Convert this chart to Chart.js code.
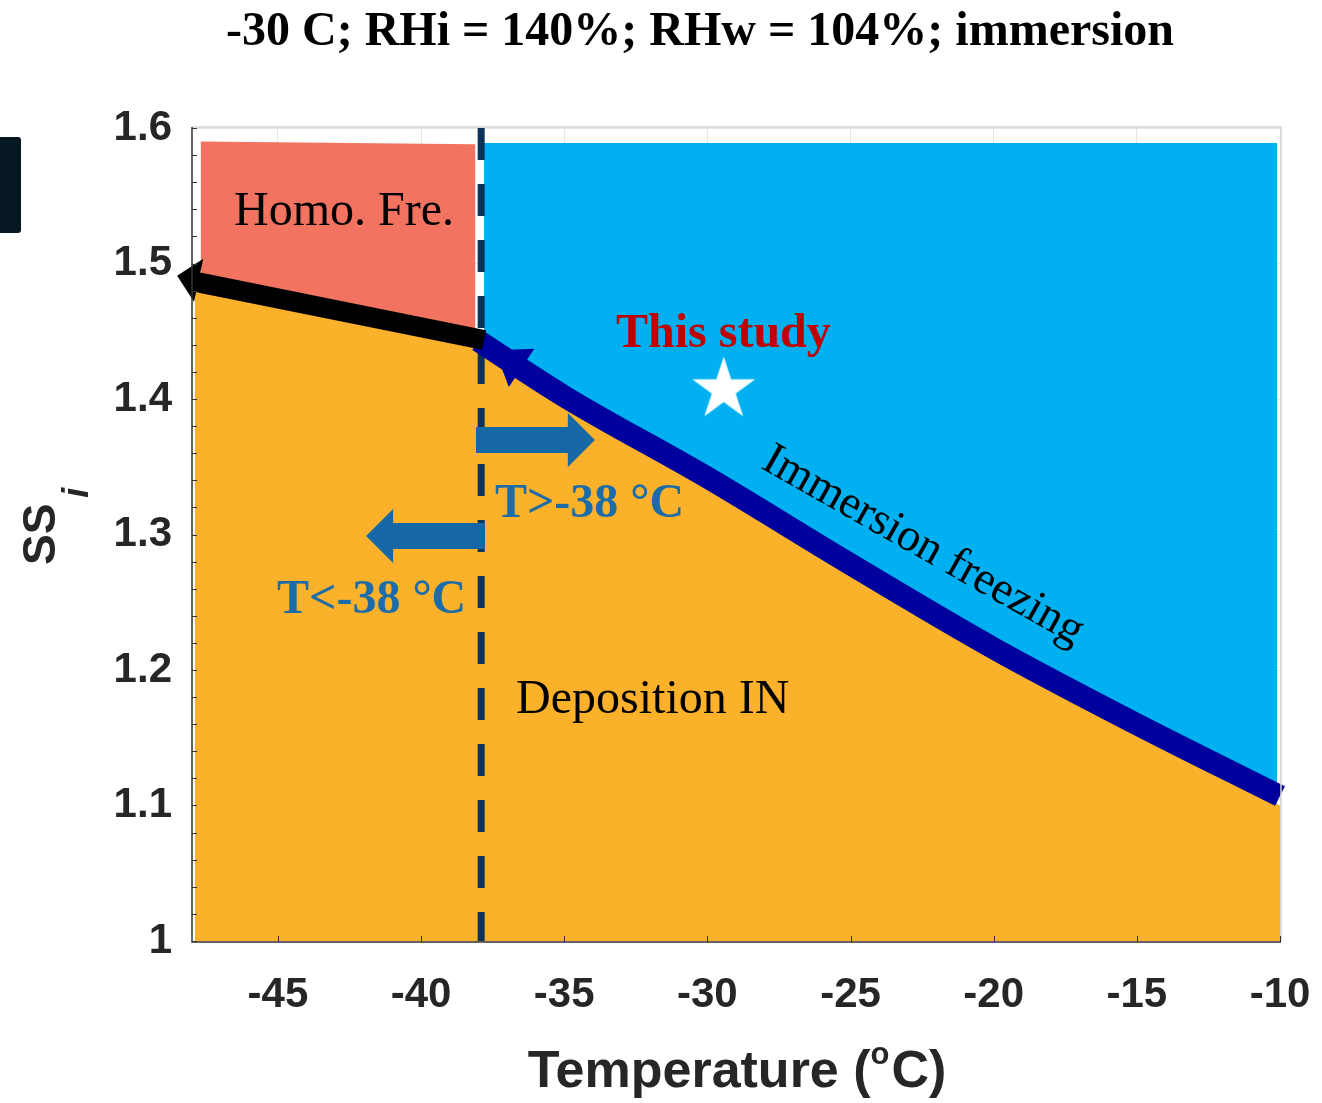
<!DOCTYPE html>
<html>
<head>
<meta charset="utf-8">
<script src="https://cdn.jsdelivr.net/npm/chart.js@4.4.0/dist/chart.umd.min.js"></script>
<style>
  body { margin: 0; background: #fff; overflow: hidden; }
  #wrap { position: relative; width: 1322px; height: 1103px; }
  #tab { position: absolute; left: 0; top: 137px; width: 21px; height: 96px; background: #061722; border-radius: 0 3px 3px 0; }
</style>
</head>
<body>
<div id="wrap"><canvas id="phase" width="1322" height="1103"></canvas><div id="tab"></div></div>
<script>
var xTicks = [-45, -40, -35, -30, -25, -20, -15, -10];
var yTicks = [1, 1.1, 1.2, 1.3, 1.4, 1.5, 1.6];

// immersion freezing line (water saturation)
var immT = [-38, -35, -30, -25, -20, -15, -10];
var immSS = [1.443, 1.402, 1.342, 1.278, 1.216, 1.160, 1.107];

// top of the deposition region
var depT = [-47.9, -38, -35, -30, -25, -20, -15, -10];
var depSS = [1.479, 1.436, 1.396, 1.337, 1.273, 1.211, 1.155, 1.100];

// homogeneous freezing block
var homT = [-47.7, -38.1];
var homSS = [1.590, 1.588];

// immersion block top
var immTopT = [-37.8, -10.1];
var immTopSS = [1.589, 1.589];

// homogeneous freezing threshold line
var homLineT = [-37.8, -48.0];
var homLineSS = [1.4435, 1.487];

// -38 C threshold
var cutT = [-37.9, -37.9];
var cutSS = [1.6, 1.0];

// this study
var studyT = [-29.43];
var studySS = [1.407];

// arrow heads: tip and the point they point away from
var headTipT = [-48.52, -37.42];
var headTipSS = [1.491, 1.436];
var headFromT = [-38, -35];
var headFromSS = [1.4435, 1.402];

// block arrows
var blockFromT = [-38.08, -37.77];
var blockToT = [-33.93, -41.92];
var blockSS = [1.3697, 1.2989];

function pts(xs, ys) {
  return xs.map(function(x, i) { return {x: x, y: ys[i]}; });
}

function makeStar(r) {
  var c = document.createElement('canvas');
  c.width = c.height = 2 * r + 4;
  var g = c.getContext('2d');
  g.translate(r + 2, r + 2);
  g.beginPath();
  for (var i = 0; i < 10; i++) {
    var rr = i % 2 === 0 ? r : r * 0.382;
    var a = -Math.PI / 2 + i * Math.PI / 5;
    g.lineTo(rr * Math.cos(a), rr * Math.sin(a));
  }
  g.closePath();
  g.fillStyle = '#ffffff';
  g.fill();
  return c;
}

var serif = "'Liberation Serif', 'Times New Roman', serif";
var sans = "'Liberation Sans', Arial, sans-serif";

var notes = [
  {text: 'Homo. Fre.', t: -46.53, ss: 1.5284, font: '48px ' + serif, color: '#000000'},
  {text: 'This study', t: -33.19, ss: 1.4384, font: 'bold 48px ' + serif, color: '#C00000'},
  {text: 'T>-38 °C', t: -37.42, ss: 1.3129, font: 'bold 48px ' + serif, color: '#1B6CA8'},
  {text: 'T<-38 °C', t: -45.03, ss: 1.2421, font: 'bold 48px ' + serif, color: '#1B6CA8'},
  {text: 'Deposition IN', t: -36.68, ss: 1.1683, font: '48px ' + serif, color: '#000000'},
  {text: 'Immersion freezing', t: -22.47, ss: 1.2915, font: '46px ' + serif, color: '#000000', angle: 29.5}
];

var overlay = {
  id: 'overlay',
  afterDatasetsDraw: function(chart) {
    var ctx = chart.ctx, xs = chart.scales.x, ys = chart.scales.y, a = chart.chartArea;
    ctx.save();
    // arrow heads of the thick lines
    var headColor = ['#000000', '#00009C'];
    var headLen = [22, 32];
    var headHalf = [22, 23];
    for (var i = 0; i < headTipT.length; i++) {
      var x1 = xs.getPixelForValue(headTipT[i]), y1 = ys.getPixelForValue(headTipSS[i]);
      var x0 = xs.getPixelForValue(headFromT[i]), y0 = ys.getPixelForValue(headFromSS[i]);
      var ang = Math.atan2(y1 - y0, x1 - x0);
      ctx.save();
      ctx.translate(x1, y1);
      ctx.rotate(ang);
      ctx.beginPath();
      ctx.moveTo(0, 0);
      ctx.lineTo(-headLen[i], -headHalf[i]);
      ctx.lineTo(-headLen[i], headHalf[i]);
      ctx.closePath();
      ctx.fillStyle = headColor[i];
      ctx.fill();
      ctx.restore();
    }
    // block arrows
    ctx.fillStyle = '#1667A5';
    for (var j = 0; j < blockSS.length; j++) {
      var bx0 = xs.getPixelForValue(blockFromT[j]), bx1 = xs.getPixelForValue(blockToT[j]);
      var by = ys.getPixelForValue(blockSS[j]);
      var dir = bx1 > bx0 ? 1 : -1, xb = bx1 - dir * 27;
      ctx.beginPath();
      ctx.moveTo(bx0, by - 13);
      ctx.lineTo(xb, by - 13);
      ctx.lineTo(xb, by - 27);
      ctx.lineTo(bx1, by);
      ctx.lineTo(xb, by + 27);
      ctx.lineTo(xb, by + 13);
      ctx.lineTo(bx0, by + 13);
      ctx.closePath();
      ctx.fill();
    }
    // frame
    ctx.lineWidth = 1.5;
    ctx.strokeStyle = '#d4d4d4';
    ctx.beginPath();
    ctx.moveTo(a.left, a.top - 1);
    ctx.lineTo(a.right + 1, a.top - 1);
    ctx.lineTo(a.right + 1, a.bottom);
    ctx.stroke();
    ctx.strokeStyle = '#333333';
    ctx.beginPath();
    ctx.moveTo(a.left, a.top - 1);
    ctx.lineTo(a.left, a.bottom + 1);
    ctx.lineTo(a.right + 1, a.bottom + 1);
    ctx.stroke();
    // minor ticks on the y axis
    ctx.lineWidth = 1;
    for (var k = 0; k <= 30; k++) {
      var ty = Math.round(ys.getPixelForValue(1 + k * 0.02)) + 0.5;
      ctx.beginPath();
      ctx.moveTo(a.left, ty);
      ctx.lineTo(a.left + 5, ty);
      ctx.stroke();
    }
    xTicks.forEach(function(v) {
      var tx = Math.round(xs.getPixelForValue(v)) + 0.5;
      ctx.beginPath();
      ctx.moveTo(tx, a.bottom + 1);
      ctx.lineTo(tx, a.bottom - 5);
      ctx.stroke();
    });
    // annotations
    notes.forEach(function(n) {
      var px = xs.getPixelForValue(n.t), py = ys.getPixelForValue(n.ss);
      ctx.save();
      ctx.font = n.font;
      ctx.fillStyle = n.color;
      if (n.angle) {
        ctx.translate(px, py);
        ctx.rotate(n.angle * Math.PI / 180);
        ctx.textAlign = 'center';
        ctx.textBaseline = 'middle';
        ctx.fillText(n.text, 0, 0);
      } else {
        ctx.textAlign = 'left';
        ctx.textBaseline = 'alphabetic';
        ctx.fillText(n.text, px, py);
      }
      ctx.restore();
    });
    ctx.restore();
  },
  afterDraw: function(chart) {
    var ctx = chart.ctx;
    ctx.save();
    ctx.fillStyle = '#000000';
    ctx.font = 'bold 48px ' + serif;
    ctx.textAlign = 'center';
    ctx.textBaseline = 'alphabetic';
    ctx.fillText('-30 C; RHi = 140%; RHw = 104%; immersion', 700, 45);

    // x axis title with superscript o
    ctx.fillStyle = '#262626';
    ctx.textAlign = 'left';
    var big = 'bold 52px ' + sans, small = 'bold 31px ' + sans;
    ctx.font = big;
    var p1 = 'Temperature (', p3 = 'C)';
    var w1 = ctx.measureText(p1).width, w3 = ctx.measureText(p3).width;
    ctx.font = small;
    var w2 = ctx.measureText('o').width;
    var x = 736 - (w1 + w2 + w3) / 2;
    ctx.font = big;
    ctx.fillText(p1, x, 1087);
    ctx.font = small;
    ctx.fillText('o', x + w1, 1064);
    ctx.font = big;
    ctx.fillText(p3, x + w1 + w2 + 2, 1087);

    // y axis title SS_i
    ctx.translate(55, 565);
    ctx.rotate(-Math.PI / 2);
    ctx.font = 'bold 46px ' + sans;
    ctx.fillText('SS', 0, 0);
    var ws = ctx.measureText('SS').width;
    ctx.font = 'italic bold 36px ' + sans;
    ctx.fillText('i', ws + 6, 33);
    ctx.restore();
  }
};

var lineDefaults = {pointRadius: 0, pointHoverRadius: 0, tension: 0, borderWidth: 0};

var datasets = [
  Object.assign({}, lineDefaults, {data: pts(studyT, studySS), showLine: false, pointRadius: 1, pointStyle: makeStar(33), order: 0}),
  Object.assign({}, lineDefaults, {data: pts(homLineT, homLineSS), borderColor: '#000000', borderWidth: 20, borderCapStyle: 'butt', clip: false, order: 1}),
  Object.assign({}, lineDefaults, {data: pts(immT, immSS), borderColor: '#00009C', borderWidth: 22, borderCapStyle: 'butt', cubicInterpolationMode: 'monotone', clip: false, order: 2}),
  Object.assign({}, lineDefaults, {data: pts(cutT, cutSS), borderColor: '#0B3358', borderWidth: 7, borderDash: [32, 24], order: 3}),
  Object.assign({}, lineDefaults, {data: pts(depT, depSS), backgroundColor: '#FCB12A', fill: 'start', cubicInterpolationMode: 'monotone', order: 4}),
  Object.assign({}, lineDefaults, {data: pts(homT, homSS), backgroundColor: '#F27360', fill: 'start', order: 5}),
  Object.assign({}, lineDefaults, {data: pts(immTopT, immTopSS), backgroundColor: '#00B0F0', fill: 'start', order: 6})
];

function noPad(s) {
  s.paddingLeft = 0; s.paddingRight = 0; s.paddingTop = 0; s.paddingBottom = 0;
}

new Chart(document.getElementById('phase'), {
  type: 'line',
  data: {datasets: datasets},
  plugins: [overlay],
  options: {
    responsive: false,
    devicePixelRatio: 1,
    animation: false,
    layout: {padding: {top: 128, right: 42, left: 0, bottom: 0}},
    plugins: {legend: {display: false}, tooltip: {enabled: false}, title: {display: false}},
    scales: {
      x: {
        type: 'linear', min: -48, max: -10,
        afterFit: function(s) { s.height = 162; noPad(s); },
        afterBuildTicks: function(s) { s.ticks = xTicks.map(function(v) { return {value: v}; }); },
        grid: {color: '#e6e6e6', drawTicks: false},
        border: {display: false},
        ticks: {
          padding: 29, color: '#262626', maxRotation: 0, autoSkip: false,
          font: {family: sans, size: 42, weight: 'bold'},
          callback: function(v) { return String(v); }
        }
      },
      y: {
        type: 'linear', min: 1, max: 1.6,
        afterFit: function(s) { s.width = 192; noPad(s); },
        afterBuildTicks: function(s) { s.ticks = yTicks.map(function(v) { return {value: v}; }); },
        grid: {color: '#e6e6e6', drawTicks: false},
        border: {display: false},
        ticks: {
          padding: 20, color: '#262626', autoSkip: false,
          font: {family: sans, size: 42, weight: 'bold'},
          callback: function(v) { return String(v); }
        }
      }
    }
  }
});
</script>
</body>
</html>
